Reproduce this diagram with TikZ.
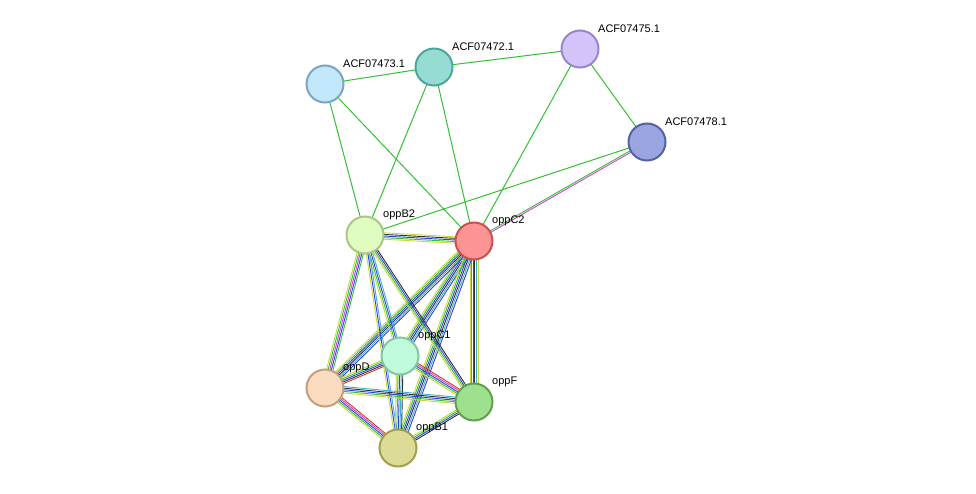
\documentclass[tikz,border=0pt]{standalone}
\usepackage{fontspec}
\setmainfont{Liberation Sans}
\usetikzlibrary{calc}
\definecolor{eg}{HTML}{33C033}
\definecolor{ey}{HTML}{C8D83C}
\definecolor{eb}{HTML}{3040E0}
\definecolor{ec}{HTML}{40B0D0}
\definecolor{em}{HTML}{D040D0}
\definecolor{er}{HTML}{E03030}
\definecolor{ek}{HTML}{303030}
\newcommand\mybundle[4]{%
  \foreach \c [count=\i] in {#3} {
    \pgfmathsetmacro\k{(\i-1)*1.6-0.8*(#4-1)}
    \draw[\c, line width=0.9pt] ($(#1)!\k pt!90:(#2)$) -- ($(#2)!\k pt!-90:(#1)$);
  }}
\begin{document}
\begin{tikzpicture}[x=1pt,y=-1pt,
  prot/.style={circle, minimum size=37pt, inner sep=0pt, line width=2pt},
  lab/.style={anchor=west, font=\fontsize{11}{13}\selectfont, inner sep=0pt},
  gl/.style={eg, line width=1pt}]
\useasboundingbox (0,0) rectangle (976,494);
\coordinate (a3) at (325,84);
\coordinate (a2) at (434,67);
\coordinate (a5) at (580,49);
\coordinate (a8) at (647,142);
\coordinate (b2) at (365,235);
\coordinate (c2) at (474,241);
\coordinate (c1) at (400,356);
\coordinate (d) at (325,388);
\coordinate (f) at (474,402);
\coordinate (b1) at (398,448);
% green edges
\foreach \u/\v in {a3/a2,a2/a5,a5/a8,a5/c2,a3/b2,a3/c2,a2/b2,a2/c2,a8/b2}
  \draw[gl] (\u) -- (\v);
\mybundle{a8}{c2}{eg,em}{2}
% dense edges
\mybundle{b2}{c2}{ey,eg,eb,ek,ey}{5}
\mybundle{c2}{c1}{ey,eg,eb,ek,ec,eb}{6}
\mybundle{c2}{d}{ey,eg,eb,ek,ec,eb}{6}
\mybundle{c2}{f}{ey,eg,eb,ek,ec,ey}{6}
\mybundle{c2}{b1}{ey,eg,eb,ek,ec,eb}{6}
\mybundle{b2}{c1}{ey,eg,eb,ec}{4}
\mybundle{b2}{d}{ey,eg,em,eb,eg}{5}
\mybundle{b2}{f}{ey,eg,eb,ek}{4}
\mybundle{b2}{b1}{ey,eb,ec}{3}
\mybundle{c1}{d}{ey,eg,eb,ek,er}{5}
\mybundle{c1}{f}{ey,eg,eb,em,er}{5}
\mybundle{c1}{b1}{ey,eg,eb,ec,ek}{5}
\mybundle{d}{f}{ey,eg,eb,ek,ec}{5}
\mybundle{d}{b1}{ey,eg,eb,em,er}{5}
\mybundle{f}{b1}{ey,eg,eb,ek}{4}
% nodes
\foreach \n/\f/\b/\t in {a3/C3E8FC/7AA6C0/ACF07473.1, a2/96DCD4/4EA59A/ACF07472.1,
  a5/D5C3FB/9A85C8/ACF07475.1, a8/9BA5E0/5262A5/ACF07478.1,
  b2/E1FCC0/A8C882/oppB2, c2/FC9494/C85050/oppC2, c1/C0FCDC/80C8A0/oppC1,
  d/FCDCC0/C0A080/oppD, f/9EE08E/5EA04E/oppF, b1/DCDC96/A0A050/oppB1} {
  \definecolor{ff}{HTML}{\f}\definecolor{bb}{HTML}{\b}
  \node[prot, fill=ff, draw=bb] (n\n) at (\n) {};
  \node[lab] (l\n) at ($(\n)+(18,-20)$) {\t};
}
\end{tikzpicture}
\end{document}
